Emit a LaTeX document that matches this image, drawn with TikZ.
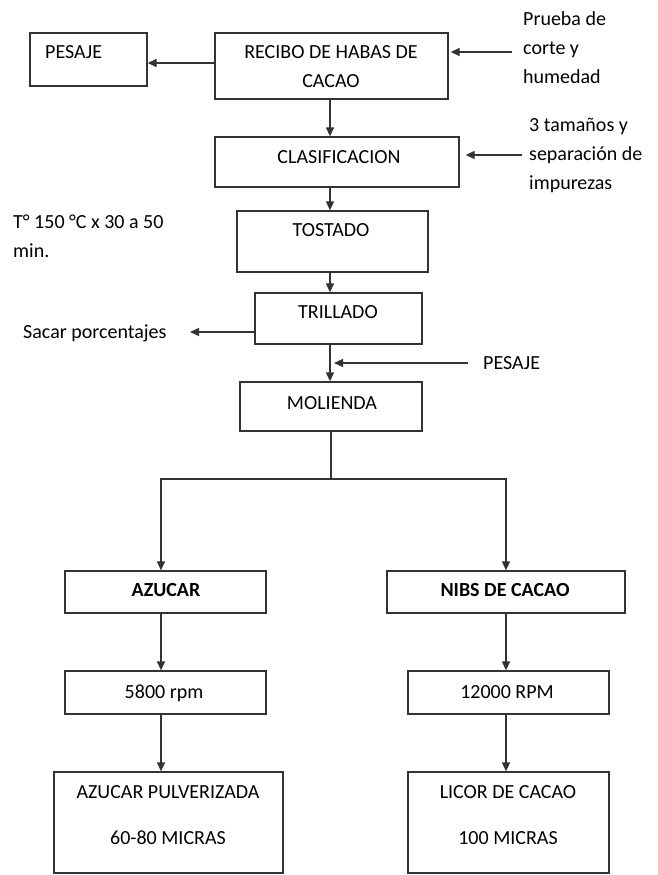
\documentclass[tikz,border=0pt]{standalone}
\usepackage{fontspec}
\setmainfont{Carlito}
\usetikzlibrary{arrows.meta,fit}
\begin{document}
\begin{tikzpicture}[x=1pt,y=-1pt,
 caja/.style={draw=black!80,line width=1.3pt,inner sep=0pt},
 texto/.style={inner sep=0pt,font=\fontsize{20}{29}\selectfont,align=center},
 flecha/.style={draw=black!80,line width=1.3pt,-{Triangle[length=9pt,width=8pt]}}]
\useasboundingbox (0,0) rectangle (657,875);
\foreach \n/\xa/\ya/\xb/\yb in {pesaje/30/33/147/86,recibo/215/33/448/99,clasif/215/137/459/187,
 tostado/237/211/428/272,trillado/255/293/422/344,molienda/240/382/422/431,
 azucar/65/571/266/613,nibs/387/571/625/613,rpmA/65/671/266/714,rpmB/408/671/609/714,
 pulver/54/772/283/873,licor/408/772/609/873}
{
    \node[caja,fit={(\xa,\ya) (\xb,\yb)}](\n){};
}

\node[texto,anchor=base west](tpesaje) at (45,58.5){PESAJE};
\node[texto,anchor=north](trecibo) at (331,45.5){RECIBO DE HABAS DE\\CACAO};
\node[texto,anchor=north west,align=left](tprueba) at (523,11){Prueba de\\corte y\\humedad};
\node[texto,anchor=base](tclasif) at (339,163.5){CLASIFICACION};
\node[texto,anchor=north west,align=left](ttamano) at (529,118){3 tamaños y\\separación de\\impurezas};
\node[texto,anchor=north west,align=left](ttemp) at (13,215){T° 150 °C x 30 a 50\\min.};
\node[texto,anchor=base](ttostado) at (331,236.5){TOSTADO};
\node[texto,anchor=base](ttrillado) at (338,318.5){TRILLADO};
\node[texto,anchor=base west](tsacar) at (23,338.5){Sacar porcentajes};
\node[texto,anchor=base west](tpesaje2) at (483,369.5){PESAJE};
\node[texto,anchor=base](tmolienda) at (332,409.5){MOLIENDA};
\node[texto,anchor=base,font=\fontsize{20}{29}\selectfont\bfseries](tazucar) at (166,596.5){AZUCAR};
\node[texto,anchor=base,font=\fontsize{20}{29}\selectfont\bfseries](tnibs) at (505,596.5){NIBS DE CACAO};
\node[texto,anchor=base](trpmA) at (164,698.5){5800 rpm};
\node[texto,anchor=base](trpmB) at (507,698.5){12000 RPM};
\node[texto,anchor=north](tpulver) at (168,785.5){AZUCAR PULVERIZADA\\[17pt]60-80 MICRAS};
\node[texto,anchor=north](tlicor) at (508,785.5){LICOR DE CACAO\\[17pt]100 MICRAS};

\coordinate (eje) at (330,0);
\coordinate (pprueba) at (512,52);
\coordinate (ptamano) at (522,155);
\coordinate (psacar) at (190,332);
\coordinate (ppesaje) at (468,363);
\coordinate (ramaA) at (161,479);
\coordinate (ramaB) at (506,479);

\foreach \a/\b in {recibo/clasif,clasif/tostado,tostado/trillado,trillado/molienda}
{
    \draw[flecha](\a.south-|eje)--(\b.north-|eje);
}
\draw[flecha](recibo.west|-0,63)--(pesaje.east|-0,63);
\draw[flecha,shorten >=2pt](pprueba)--(recibo.east|-pprueba);
\draw[flecha,shorten >=6pt](ptamano)--(clasif.east|-ptamano);
\draw[flecha](trillado.west|-psacar)--(psacar);
\draw[flecha,shorten >=4pt](ppesaje)--(eje|-ppesaje);
\draw[flecha](molienda.south)|-(ramaA)--(azucar.north-|ramaA);
\draw[flecha](molienda.south)|-(ramaB)--(nibs.north-|ramaB);
\foreach \a/\b/\c in {azucar/rpmA/ramaA,rpmA/pulver/ramaA,nibs/rpmB/ramaB,rpmB/licor/ramaB}
{
    \draw[flecha](\a.south-|\c)--(\b.north-|\c);
}

\end{tikzpicture}
\end{document}
